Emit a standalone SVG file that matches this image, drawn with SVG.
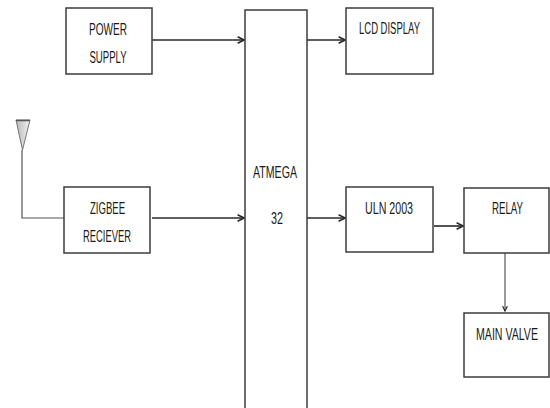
<svg xmlns="http://www.w3.org/2000/svg" width="550" height="408" viewBox="0 0 550 408">
<style>
.box{fill:#fff;stroke:#3c3c3c;stroke-width:1.5}
.lbl{font-family:"Liberation Sans",Arial,sans-serif;font-size:16px;fill:#1a1a1a;text-anchor:middle}
.ln{fill:none;stroke:#2a2a2a;stroke-width:1.6}
.ln2{fill:none;stroke:#555;stroke-width:1.2}
</style>
<defs>
<marker id="arr" viewBox="0 0 10 10" refX="9" refY="5" markerWidth="5" markerHeight="5" orient="auto" markerUnits="strokeWidth">
<path d="M1,1 L9,5 L1,9" fill="none" stroke="#2a2a2a" stroke-width="2"/>
</marker>
<linearGradient id="ant" x1="0" y1="0" x2="1" y2="0">
<stop offset="0" stop-color="#b8b8b8"/>
<stop offset="1" stop-color="#f2f2f2"/>
</linearGradient>
</defs>
<rect width="550" height="408" fill="#fff"/>
<g id="connectors">
<line class="ln" x1="152" y1="40" x2="244" y2="40" marker-end="url(#arr)"/>
<line class="ln" x1="307" y1="40" x2="345" y2="40" marker-end="url(#arr)"/>
<polyline class="ln2" points="22,150 22,218 64,218"/>
<line class="ln" x1="152" y1="218" x2="244" y2="218" marker-end="url(#arr)"/>
<line class="ln" x1="307" y1="218" x2="345" y2="218" marker-end="url(#arr)"/>
<line class="ln" x1="434" y1="226" x2="463" y2="226" marker-end="url(#arr)"/>
<line class="ln2" x1="505" y1="253" x2="505" y2="311" marker-end="url(#arr)"/>
</g>
<g id="antenna">
<polygon points="16,120 30,120 22.5,150" fill="url(#ant)" stroke="#777" stroke-width="1"/>
<line x1="16" y1="120.5" x2="30" y2="120.5" stroke="#555" stroke-width="1.5"/>
</g>
<g id="power">
<rect class="box" x="66" y="8" width="86" height="66"/>
<text class="lbl" x="108" y="35" textLength="38" lengthAdjust="spacingAndGlyphs">POWER</text>
<text class="lbl" x="108" y="63" textLength="37" lengthAdjust="spacingAndGlyphs">SUPPLY</text>
</g>
<g id="atmega">
<rect class="box" x="245" y="10" width="62" height="410"/>
<text class="lbl" x="275" y="178" textLength="44" lengthAdjust="spacingAndGlyphs">ATMEGA</text>
<text class="lbl" x="277" y="224" textLength="12" lengthAdjust="spacingAndGlyphs">32</text>
</g>
<g id="lcd">
<rect class="box" x="346" y="8" width="87" height="66"/>
<text class="lbl" x="389.5" y="34" textLength="61" lengthAdjust="spacingAndGlyphs">LCD DISPLAY</text>
</g>
<g id="zigbee">
<rect class="box" x="64" y="187" width="86" height="66"/>
<text class="lbl" x="107.5" y="214" textLength="35" lengthAdjust="spacingAndGlyphs">ZIGBEE</text>
<text class="lbl" x="107" y="242" textLength="48" lengthAdjust="spacingAndGlyphs">RECIEVER</text>
</g>
<g id="uln">
<rect class="box" x="346" y="187" width="87" height="65"/>
<text class="lbl" x="389" y="214" textLength="48" lengthAdjust="spacingAndGlyphs">ULN 2003</text>
</g>
<g id="relay">
<rect class="box" x="464" y="188" width="85" height="65"/>
<text class="lbl" x="507.5" y="214" textLength="31" lengthAdjust="spacingAndGlyphs">RELAY</text>
</g>
<g id="mainvalve">
<rect class="box" x="464" y="313" width="85" height="64"/>
<text class="lbl" x="507" y="340" textLength="62" lengthAdjust="spacingAndGlyphs">MAIN VALVE</text>
</g>
</svg>
